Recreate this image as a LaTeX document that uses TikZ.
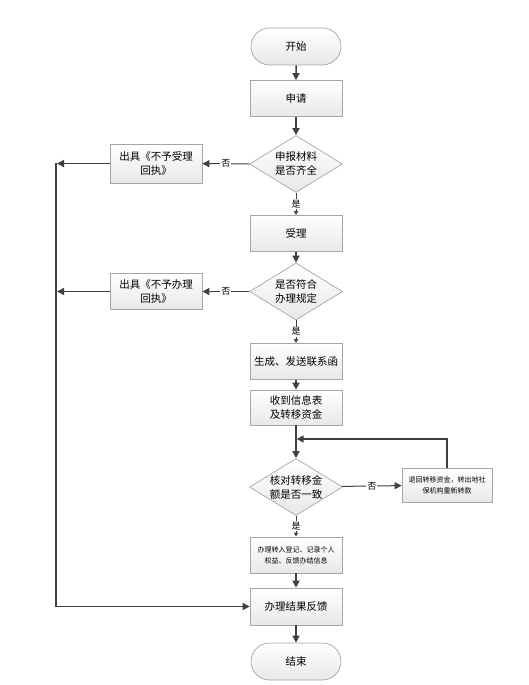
\documentclass[tikz,border=0pt]{standalone}
\usepackage{fontspec}
\newfontfamily\cjk{Noto Sans CJK SC}
\usetikzlibrary{arrows.meta, shapes.geometric, shapes.misc}
\definecolor{linegray}{HTML}{404040}
\definecolor{edgegray}{HTML}{A6A6A6}

\begin{document}
\begin{tikzpicture}[
        x=1pt, y=-1pt, % координаты как в пикселях
        box/.style = {draw=edgegray, line width=0.7pt, top color=white, bottom color=black!9,
                minimum width=92pt, minimum height=36pt, align=center, inner sep=1pt,
                font=\cjk\fontsize{10.5}{14}\selectfont},
        smallbox/.style = {box, font=\cjk\fontsize{7}{11}\selectfont},
        term/.style = {box, rounded rectangle, minimum height=37pt},
        check/.style = {box, diamond, aspect=1.6, minimum width=93pt, minimum height=57pt, inner sep=0pt},
        flow/.style = {draw=linegray, line width=1.5pt, -{Triangle[length=7pt, width=7pt]}},
        yes/.style = {draw=linegray, line width=1pt, -{Triangle[length=4pt, width=4pt]}},
        no/.style = {draw=linegray, line width=1pt, -{Triangle[length=7pt, width=7pt]}},
        lbl/.style = {fill=white, inner sep=1pt, font=\cjk\fontsize{9}{10}\selectfont},
    ]
    \useasboundingbox (0,0) rectangle (528,685);

    % основная линия
    \node[term] (start) at (296,46.5) {开始};
    \node[box] (apply) at (296,98.5) {申请};
    \node[check] (chk1) at (296,164) {申报材料\\是否齐全};
    \node[box, minimum height=39pt] (rej1) at (156,163.5) {出具《不予受理\\回执》};
    \node[box] (accept) at (296,233.5) {受理};
    \node[check] (chk2) at (296,291.5) {是否符合\\办理规定};
    \node[box] (rej2) at (156,291.5) {出具《不予办理\\回执》};
    \node[box] (send) at (296,361.5) {生成、发送联系函};
    \node[box, minimum height=35pt] (recv) at (296,407.5) {收到信息表\\及转移资金};
    \node[check] (chk3) at (296,487) {核对转移金\\额是否一致};
    \node[smallbox, minimum width=90pt, minimum height=34pt] (back) at (447,485) {退回转移资金，转出地社\\保机构重新转款};
    \node[smallbox] (reg) at (296,555) {办理转入登记、记录个人\\权益、反馈办结信息};
    \node[box, minimum height=37pt] (result) at (296,606.5) {办理结果反馈};
    \node[term] (finish) at (296,661.5) {结束};

    % точки для левой линии и петли
    \coordinate (top) at (56,163);
    \coordinate (bot) at (56,606.5);
    \coordinate (hit1) at (57,163.5);
    \coordinate (hit2) at (57,291.5);
    \coordinate (loop) at (296.7,439);

    \draw[flow] (start) -- (apply);
    \draw[flow] (apply) -- (chk1);
    \draw[no] (chk1) -- node[lbl] {否} (rej1);
    \draw[flow] (rej1) -- (hit1);
    \draw[yes] (chk1) -- node[lbl] {是} (accept);
    \draw[flow] (accept) -- (chk2);
    \draw[no] (chk2) -- node[lbl] {否} (rej2);
    \draw[flow] (rej2) -- (hit2);
    \draw[yes] (chk2) -- node[lbl] {是} (send);
    \draw[flow] (send) -- (recv);
    \draw[flow] (recv) -- (chk3);
    \draw[no] (chk3) -- node[lbl] {否} (back);
    \draw[flow] (back.north) |- (loop);
    \draw[yes] (chk3) -- node[lbl] {是} (reg);
    \draw[flow] (reg) -- (result);
    \draw[flow] (top) -- (bot) -- (result);
    \draw[flow] (result) -- (finish);

\end{tikzpicture}
\end{document}
